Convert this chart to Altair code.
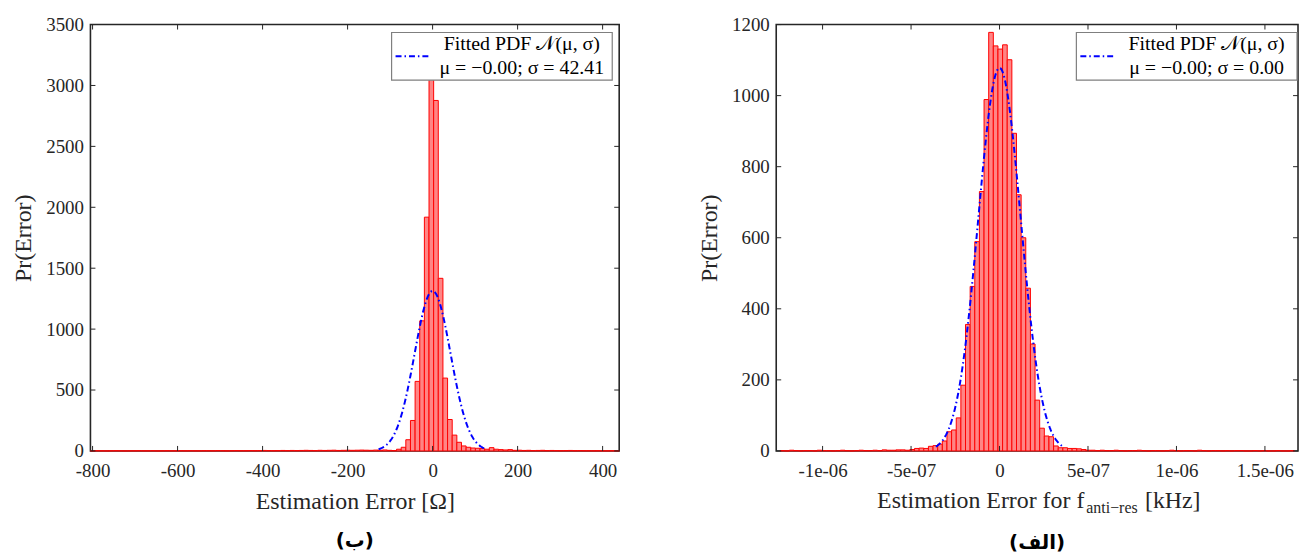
import altair as alt
import pandas as pd
import numpy as np

SERIF = "Liberation Serif"
INK = "#262626"

# ---------------- Left panel (ب) ----------------
L_BIN_LO = -805.0
L_BIN_W = 10.912
L_COUNTS = [
    0, 2, 1, 0, 1, 2, 1, 0, 1, 1,
    2, 1, 1, 2, 0, 1, 2, 1, 1, 2,
    1, 2, 1, 1, 2, 2, 1, 3, 2, 1,
    2, 3, 2, 2, 3, 2, 3, 4, 3, 2,
    3, 4, 3, 4, 3, 4, 5, 4, 3, 5,
    4, 5, 6, 4, 5, 6, 5, 6, 7, 6,
    5, 7, 6, 8,
    5, 3, 14, 30, 92, 250, 571, 1068, 1919, 3060,
    2877, 1417, 598, 258, 130, 71, 41, 30, 24, 22,
    19, 14, 27, 14, 11, 8, 11, 5,
    6, 4, 5, 3, 4, 5, 3, 4, 3, 2, 3, 4, 2, 3, 2, 2, 1, 2, 1, 1, 2, 1,
]
L_XDOM = [-805, 439]
L_YDOM = [0, 3500]
L_XTICKS = [-800, -600, -400, -200, 0, 200, 400]
L_YTICKS = [0, 500, 1000, 1500, 2000, 2500, 3000, 3500]
L_MU, L_SIGMA, L_PEAK = 0.0, 42.41, 1313
L_LEGEND = ["Fitted PDF 𝒩(μ, σ)", "μ = −0.00; σ = 42.41"]

# ---------------- Right panel (الف) ----------------
R_BIN_LO = -1.2402e-6
R_BIN_W = 2.62e-8
R_COUNTS = [
    1, 0, 2, 1, 0, 1, 1, 0, 2, 1,
    1, 0, 1, 2, 1, 0, 1, 2, 1, 1,
    2, 1, 3, 2, 2, 3, 3, 2, 4,
    7, 8, 7, 13, 15, 19, 28, 54, 59, 93,
    185, 356, 463, 589, 730, 989, 1178, 1140, 1131, 1143,
    1101, 894, 721, 600, 458, 301, 143, 64, 42, 40,
    14, 9, 9, 7, 7, 6, 4, 2,
    2, 1, 2, 1, 1, 2, 1, 0, 1, 1,
    2, 1, 0, 1, 1, 0, 1, 2, 1, 0,
    1, 1, 0, 2, 1, 0, 1, 1, 0, 1,
    0, 1, 1, 0, 0, 1, 0, 1, 0, 0,
    1, 0, 0, 1,
]
R_XDOM = [-1.262e-6, 1.687e-6]
R_YDOM = [0, 1200]
R_XTICKS = [-1e-6, -5e-7, 0, 5e-7, 1e-6, 1.5e-6]
R_XLABELS = ["-1e-06", "-5e-07", "0", "5e-07", "1e-06", "1.5e-06"]
R_YTICKS = [0, 200, 400, 600, 800, 1000, 1200]
R_MU, R_SIGMA, R_PEAK = 0.0, 1.2e-7, 1078
R_LEGEND = ["Fitted PDF 𝒩(μ, σ)", "μ = −0.00; σ = 0.00"]

H = 429


def panel(bin_lo, bin_w, counts, xdom, ydom, xticks, yticks, mu, sigma, peak,
          W, legend, xlabel_expr, xtitle, legend_x):
    xs = alt.Scale(domain=xdom, nice=False, zero=False)
    ys = alt.Scale(domain=ydom, nice=False, zero=False)
    n = len(counts)
    bars_df = pd.DataFrame({
        "x0": [bin_lo + i * bin_w for i in range(n)],
        "x1": [bin_lo + (i + 1) * bin_w for i in range(n)],
        "count": counts,
    })
    bars = alt.Chart(bars_df).mark_rect(
        fill="#ff8585", stroke="#ff0000", strokeWidth=1
    ).encode(
        x=alt.X("x0:Q", scale=xs, title=xtitle, axis=alt.Axis(
            values=xticks, labelExpr=xlabel_expr, labelPadding=11, titlePadding=9)),
        x2="x1:Q",
        y=alt.Y("count:Q", scale=ys, title="Pr(Error)", axis=alt.Axis(
            values=yticks, format="d", titlePadding=10)),
        y2=alt.datum(0),
    )
    xc = np.linspace(mu - 3 * sigma, mu + 3 * sigma, 161)
    curve_df = pd.DataFrame({"x0": xc, "count": peak * np.exp(-0.5 * ((xc - mu) / sigma) ** 2)})
    curve = alt.Chart(curve_df).mark_line(
        color="#0000ff", strokeWidth=2, strokeDash=[6, 3, 1.5, 3]
    ).encode(x=alt.X("x0:Q", scale=xs), y=alt.Y("count:Q", scale=ys))

    dx = pd.DataFrame({"x0": xticks})
    dy = pd.DataFrame({"count": yticks})
    tick_b = alt.Chart(dx).mark_rule(color=INK, strokeWidth=1).encode(
        x=alt.X("x0:Q", scale=xs), y=alt.value(H), y2=alt.value(H - 5))
    tick_t = alt.Chart(dx).mark_rule(color=INK, strokeWidth=1).encode(
        x=alt.X("x0:Q", scale=xs), y=alt.value(0), y2=alt.value(5))
    tick_l = alt.Chart(dy).mark_rule(color=INK, strokeWidth=1).encode(
        y=alt.Y("count:Q", scale=ys), x=alt.value(0), x2=alt.value(5))
    tick_r = alt.Chart(dy).mark_rule(color=INK, strokeWidth=1).encode(
        y=alt.Y("count:Q", scale=ys), x=alt.value(W - 5), x2=alt.value(W))

    one = pd.DataFrame({"a": [0]})
    lx = legend_x
    box = alt.Chart(one).mark_rect(fill="white", stroke="#7f7f7f", strokeWidth=1.2).encode(
        x=alt.value(lx), x2=alt.value(lx + 222), y=alt.value(8), y2=alt.value(56))
    sample = alt.Chart(one).mark_rule(color="#0000ff", strokeWidth=2,
                                      strokeDash=[6, 3, 1.5, 3]).encode(
        x=alt.value(lx + 4), x2=alt.value(lx + 40), y=alt.value(32))
    t1 = alt.Chart(one).mark_text(font=SERIF, fontSize=20, align="center",
                                  baseline="alphabetic", color="black").encode(
        x=alt.value(lx + 131), y=alt.value(26), text=alt.value(legend[0]))
    t2 = alt.Chart(one).mark_text(font=SERIF, fontSize=20, align="center",
                                  baseline="alphabetic", color="black").encode(
        x=alt.value(lx + 131), y=alt.value(50), text=alt.value(legend[1]))

    return [bars, curve, tick_b, tick_t, tick_l, tick_r, box, sample, t1, t2]


L_layers = panel(L_BIN_LO, L_BIN_W, L_COUNTS, L_XDOM, L_YDOM, L_XTICKS, L_YTICKS,
                 L_MU, L_SIGMA, L_PEAK, 532, L_LEGEND, "'' + datum.value",
                 "Estimation Error [Ω]", 303)

r_expr = ("datum.value < -7.5e-7 ? '" + R_XLABELS[0] + "' : datum.value < -2.5e-7 ? '" + R_XLABELS[1] +
          "' : datum.value < 2.5e-7 ? '" + R_XLABELS[2] + "' : datum.value < 7.5e-7 ? '" + R_XLABELS[3] +
          "' : datum.value < 1.25e-6 ? '" + R_XLABELS[4] + "' : '" + R_XLABELS[5] + "'")
R_layers = panel(R_BIN_LO, R_BIN_W, R_COUNTS, R_XDOM, R_YDOM, R_XTICKS, R_YTICKS,
                 R_MU, R_SIGMA, R_PEAK, 525, R_LEGEND, r_expr, " ", 302)

one = pd.DataFrame({"a": [0]})
XT_MAIN = "Estimation Error for f"
XT_SUB = "anti−res"
XT_TAIL = "[kHz]"
rt1 = alt.Chart(one).mark_text(font=SERIF, fontSize=24, align="right", baseline="alphabetic",
                               color=INK).encode(x=alt.value(310), y=alt.value(486),
                                                 text=alt.value(XT_MAIN))
rt2 = alt.Chart(one).mark_text(font=SERIF, fontSize=16, align="left", baseline="alphabetic",
                               color=INK).encode(x=alt.value(312), y=alt.value(491),
                                                 text=alt.value(XT_SUB))
rt3 = alt.Chart(one).mark_text(font=SERIF, fontSize=24, align="left", baseline="alphabetic",
                               color=INK).encode(x=alt.value(371), y=alt.value(486),
                                                 text=alt.value(XT_TAIL))

cap_style = dict(orient="bottom", font="DejaVu Sans", fontSize=20, fontWeight="bold",
                 frame="group", anchor="middle", offset=18, color="black")

left = alt.layer(*L_layers).properties(
    width=532, height=H, title=alt.TitleParams("(ب)", **cap_style))
right = alt.layer(*(R_layers + [rt1, rt2, rt3])).properties(
    width=525, height=H, title=alt.TitleParams("(الف)", **cap_style))

chart = alt.hconcat(left, right, spacing=76).properties(
    padding={"left": 11, "top": 13, "right": 0, "bottom": 0}
).configure_view(
    stroke=INK, strokeWidth=1.6
).configure_axis(
    domain=False, ticks=False, grid=False,
    labelFont=SERIF, labelFontSize=19, labelColor=INK, labelPadding=7,
    titleFont=SERIF, titleFontSize=24, titleFontWeight="normal", titleColor=INK,
)

chart.save("out.html", embed_options={"renderer": "svg", "actions": False})
